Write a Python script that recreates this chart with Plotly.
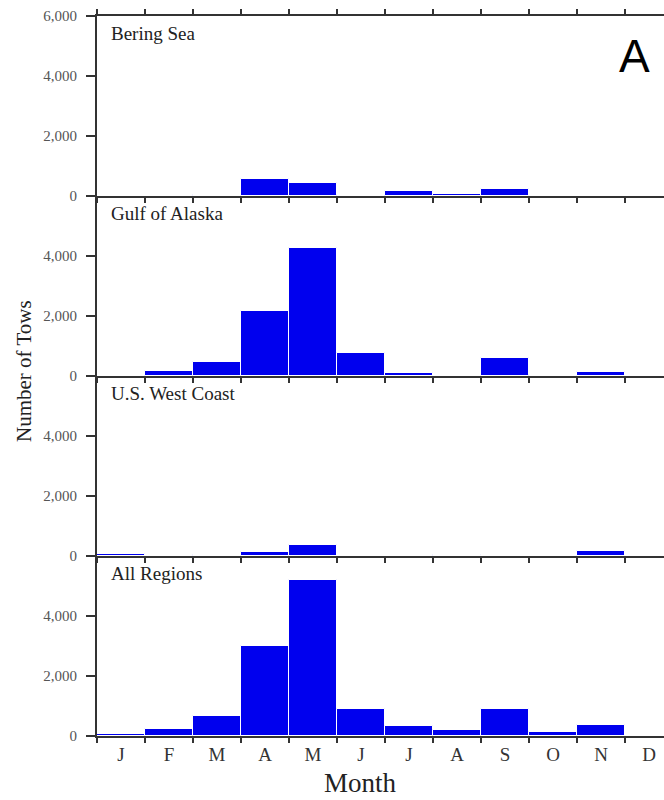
import plotly.graph_objects as go

months = ["J", "F", "M", "A", "M", "J", "J", "A", "S", "O", "N", "D"]
month_pos = list(range(1, 13))
regions = ["Bering Sea", "Gulf of Alaska", "U.S. West Coast", "All Regions"]
bering = [0, 0, 30, 560, 450, 50, 160, 80, 220, 0, 0, 0]
gulf = [0, 180, 470, 2180, 4280, 780, 110, 0, 600, 40, 150, 0]
west = [60, 0, 50, 130, 370, 0, 0, 40, 0, 0, 160, 0]
allreg = [80, 230, 670, 2990, 5200, 890, 330, 200, 890, 120, 370, 0]
series = [bering, gulf, west, allreg]
y_ticks_top = [0, 2000, 4000, 6000]
y_ticks = [0, 2000, 4000]

W, H = 664, 800
ML, MR, MT, MB = 97, 0, 16, 64
bin_px = 48.0
plot_w = W - ML - MR
plot_h = H - MT - MB
x_range = [0.5, 0.5 + plot_w / bin_px]

AX = "#333333"
SERIF = "Liberation Serif, Times New Roman, serif"

fig = go.Figure()
n = len(regions)
for i, (name, vals) in enumerate(zip(regions, series)):
    k = i + 1
    xa = "x" if k == 1 else f"x{k}"
    ya = "y" if k == 1 else f"y{k}"
    fig.add_trace(go.Bar(
        x=month_pos, y=vals, xaxis=xa, yaxis=ya, width=1.0,
        marker=dict(color="#0000ee", line=dict(color="white", width=1)),
        showlegend=False, name=name,
    ))
    top = 1 - i / n
    bot = 1 - (i + 1) / n
    last = (i == n - 1)
    xkey = "xaxis" if k == 1 else f"xaxis{k}"
    ykey = "yaxis" if k == 1 else f"yaxis{k}"
    fig.layout[xkey] = dict(
        domain=[0, 1], anchor=ya, range=x_range, fixedrange=True,
        showline=True, linecolor=AX, linewidth=2,
        mirror="ticks" if i == 0 else False,
        showgrid=False, zeroline=False,
        tickmode="array", tickvals=month_pos,
        ticktext=months if last else [""] * 12,
        ticks="outside", ticklen=0, tickcolor=AX,
        tickfont=dict(family=SERIF, size=19, color="#333"),
        minor=dict(tickmode="array", tickvals=[m - 0.5 for m in month_pos] + [12.5],
                   ticks="outside", ticklen=5, tickwidth=1.5, tickcolor=AX),
    )
    fig.layout[ykey] = dict(
        domain=[bot, top], anchor=xa, range=[0, 6000], fixedrange=True,
        showline=True, linecolor=AX, linewidth=2, mirror=False,
        showgrid=False, zeroline=False,
        tickmode="array", tickvals=y_ticks_top if i == 0 else y_ticks,
        tickformat=",d", ticks="outside", ticklen=9, tickwidth=1.5, tickcolor=AX,
        tickfont=dict(family=SERIF, size=15, color="#555"),
        ticklabelstandoff=6,
    )
    fig.add_annotation(
        text=name, xref="paper", yref="paper", x=0, y=top,
        xanchor="left", yanchor="top", xshift=12, yshift=-5, showarrow=False,
        font=dict(family=SERIF, size=19, color="#222"),
    )

fig.add_annotation(text="A", xref="paper", yref="paper", x=1, y=1,
                   xanchor="right", yanchor="top", xshift=-12, yshift=-12,
                   showarrow=False,
                   font=dict(family="Liberation Sans, Arial, sans-serif", size=46, color="black"))
fig.add_annotation(text="Number of Tows", xref="paper", yref="paper",
                   x=(24 - ML) / plot_w, y=(H - MB - 371) / plot_h,
                   xanchor="center", yanchor="middle", textangle=-90, showarrow=False,
                   font=dict(family=SERIF, size=21, color="#222"))
fig.add_annotation(text="Month", xref="paper", yref="paper",
                   x=(360 - ML) / plot_w, y=0, yshift=-47,
                   xanchor="center", yanchor="middle", showarrow=False,
                   font=dict(family=SERIF, size=27, color="#222"))

fig.update_layout(
    width=W, height=H, autosize=False,
    margin=dict(l=ML, r=MR, t=MT, b=MB),
    paper_bgcolor="white", plot_bgcolor="white",
    bargap=0,
)
fig.write_html(
    "out.html", config={"displayModeBar": False},
    post_script="document.body.style.margin='0';document.body.style.overflow='hidden';",
)
